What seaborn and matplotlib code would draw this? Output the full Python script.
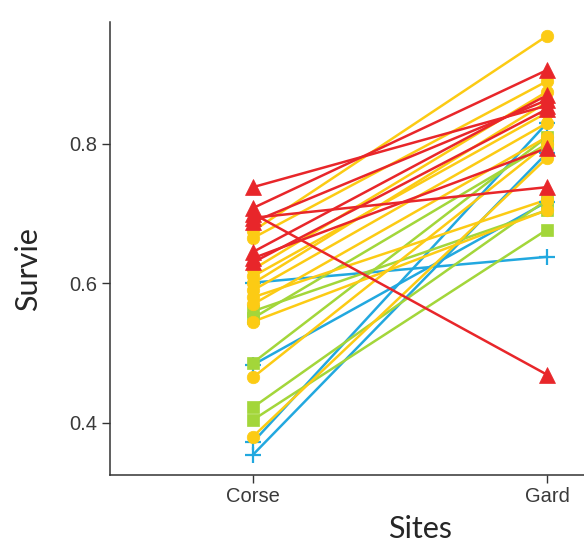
import numpy as np
import pandas as pd
import seaborn as sns
import matplotlib.pyplot as plt

sites = ['Corse', 'Gard']

# survival per population, paired Corse -> Gard
red_corse = [0.738, 0.708, 0.700, 0.694, 0.688, 0.645, 0.636, 0.630]
red_gard = [0.855, 0.906, 0.469, 0.738, 0.863, 0.870, 0.794, 0.850]

yellow_corse = [0.675, 0.665, 0.620, 0.610, 0.600, 0.590, 0.580, 0.570, 0.545, 0.465, 0.380]
yellow_gard = [0.955, 0.890, 0.875, 0.845, 0.860, 0.830, 0.720, 0.810, 0.705, 0.800, 0.780]

green_corse = [0.560, 0.550, 0.486, 0.422, 0.404]
green_gard = [0.705, 0.800, 0.810, 0.720, 0.677]

blue_corse = [0.601, 0.483, 0.372, 0.354]
blue_gard = [0.638, 0.717, 0.830, 0.787]

groups = {
    'rouge': (red_corse, red_gard, '#E8262A', '^', 11, 0),
    'jaune': (yellow_corse, yellow_gard, '#FCCB14', 'o', 9, 0),
    'vert': (green_corse, green_gard, '#A3D63A', 's', 8.5, 0),
    'bleu': (blue_corse, blue_gard, '#22A8DF', '+', 12, 1.6),
}

rows = []
for g, (c, d, *_) in groups.items():
    for i, (a, b) in enumerate(zip(c, d)):
        rows.append({'groupe': g, 'id': f'{g}{i}', 'site': sites[0], 'survie': a})
        rows.append({'groupe': g, 'id': f'{g}{i}', 'site': sites[1], 'survie': b})
df = pd.DataFrame(rows)
df['x'] = df.site.map({s: i for i, s in enumerate(sites)})

sns.set_style('ticks')
plt.rcParams['font.family'] = ['Liberation Sans', 'DejaVu Sans']

fig = plt.figure(figsize=(5.84, 5.47), dpi=100)
ax = fig.add_axes([110 / 584, 72 / 547, 474 / 584, 453 / 547])

# lines first, then points on top (like geom_line + geom_point)
for g in ['bleu', 'vert', 'jaune', 'rouge']:
    color = groups[g][2]
    sns.lineplot(data=df[df.groupe == g], x='x', y='survie', units='id', estimator=None,
                 color=color, lw=1.8, ax=ax, legend=False)
for g in ['bleu', 'vert', 'jaune', 'rouge']:
    _, _, color, m, ms, mew = groups[g]
    sub = df[df.groupe == g]
    ax.plot(sub.x, sub.survie, ls='none', marker=m, ms=ms, color=color,
            mew=mew if mew else 0.5, mec=color)

ax.set_xlim(-0.486, 1.126)
ax.set_ylim(0.325, 0.975)
ax.set_xticks(range(len(sites)))
ax.set_xticklabels(sites)
ax.set_yticks([0.4, 0.6, 0.8])
ax.set_yticklabels(['0.4', '0.6', '0.8'])
ax.tick_params(labelsize=14.5, labelcolor='#3a3a3a', color='#333333', length=6, width=1, pad=3)
for s in ['top', 'right']:
    ax.spines[s].set_visible(False)
for s in ['left', 'bottom']:
    ax.spines[s].set_color('#333333')
    ax.spines[s].set_linewidth(1.1)

ax.set_xlabel('Sites', fontsize=22, family=['Lato', 'DejaVu Sans'])
ax.set_ylabel('Survie', fontsize=22, family=['Lato', 'DejaVu Sans'])
ax.xaxis.set_label_coords(0.654, -0.088)
ax.yaxis.set_label_coords(-0.143, 0.455)

fig.savefig('out.png', dpi=100)
